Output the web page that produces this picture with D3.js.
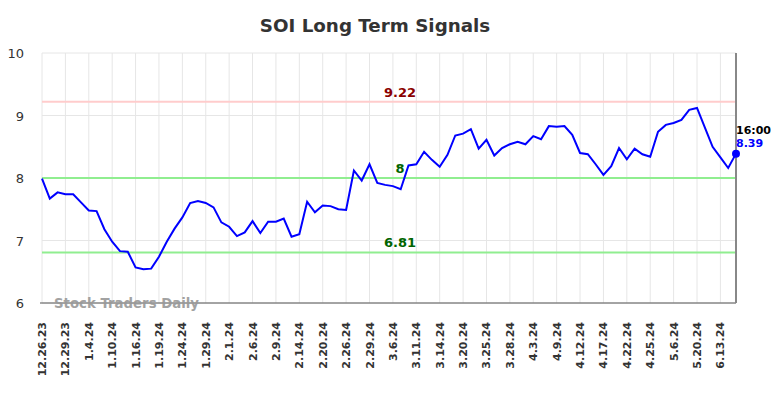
<!DOCTYPE html>
<html>
<head>
<meta charset="utf-8">
<script src="https://cdn.jsdelivr.net/npm/d3@7"></script>
<style>
  body { margin: 0; background: #fff; }
  svg { font-family: "DejaVu Sans", sans-serif; }
</style>
</head>
<body>
<div id="chart"></div>
<script>
'use strict'

// tick labels, one every 3 points
var tickLabels = ['12.26.23', '12.29.23', '1.4.24', '1.10.24', '1.16.24', '1.19.24', '1.24.24', '1.29.24',
  '2.1.24', '2.6.24', '2.9.24', '2.14.24', '2.20.24', '2.26.24', '2.29.24', '3.6.24', '3.11.24', '3.14.24',
  '3.20.24', '3.25.24', '3.28.24', '4.3.24', '4.9.24', '4.12.24', '4.17.24', '4.22.24', '4.25.24', '5.6.24',
  '5.20.24', '6.13.24'];

// signal values
var signal = [7.99, 7.67, 7.77, 7.74, 7.74, 7.61, 7.48, 7.47, 7.18, 6.98,
  6.83, 6.82, 6.57, 6.54, 6.55, 6.74, 6.98, 7.19, 7.37, 7.60,
  7.63, 7.60, 7.53, 7.29, 7.22, 7.07, 7.13, 7.31, 7.12, 7.30,
  7.30, 7.35, 7.06, 7.10, 7.62, 7.45, 7.56, 7.55, 7.50, 7.49,
  8.12, 7.96, 8.22, 7.92, 7.89, 7.87, 7.82, 8.20, 8.22, 8.42,
  8.29, 8.18, 8.37, 8.68, 8.71, 8.78, 8.47, 8.61, 8.36, 8.48,
  8.54, 8.58, 8.54, 8.67, 8.62, 8.83, 8.82, 8.83, 8.69, 8.40,
  8.38, 8.22, 8.05, 8.19, 8.48, 8.30, 8.47, 8.38, 8.34, 8.74,
  8.85, 8.88, 8.93, 9.09, 9.12, 8.81, 8.50, 8.33, 8.16, 8.39];

var yTicks = [6, 7, 8, 9, 10];
var levels = [
  { value: 9.22, label: '9.22', line: '#ffcccc', text: '#8b0000' },
  { value: 8, label: '8', line: '#90ee90', text: '#006400' },
  { value: 6.81, label: '6.81', line: '#90ee90', text: '#006400' }
];
var lastTime = '16:00';

var WIDTH = 784, HEIGHT = 398;
var LEFT = 42, RIGHT = 736, TOP = 53, BOTTOM = 303;

var svg = d3.select('#chart').append('svg').attr('width', WIDTH).attr('height', HEIGHT);

var x = d3.scaleLinear().domain([0, signal.length - 1]).range([LEFT, RIGHT]);
var y = d3.scaleLinear().domain([6, 10]).range([BOTTOM, TOP]);

// title
svg.append('text')
  .attr('x', 375).attr('y', 32)
  .attr('text-anchor', 'middle')
  .attr('font-size', '18.3px').attr('font-weight', 'bold')
  .attr('fill', '#333')
  .text('SOI Long Term Signals');

// grid
svg.append('g').selectAll('line').data(yTicks).enter().append('line')
  .attr('x1', LEFT).attr('x2', RIGHT)
  .attr('y1', function (d) { return y(d) }).attr('y2', function (d) { return y(d) })
  .attr('stroke', '#e6e6e6').attr('stroke-width', 1);

svg.append('g').selectAll('line').data(tickLabels).enter().append('line')
  .attr('x1', function (d, i) { return x(i * 3) }).attr('x2', function (d, i) { return x(i * 3) })
  .attr('y1', TOP).attr('y2', BOTTOM)
  .attr('stroke', '#e6e6e6').attr('stroke-width', 1);

// y labels
svg.append('g').selectAll('text').data(yTicks).enter().append('text')
  .attr('x', 24).attr('y', function (d) { return y(d) + 5 })
  .attr('text-anchor', 'end')
  .attr('font-size', '13px').attr('fill', '#333')
  .text(function (d) { return d });

// x labels
svg.append('g').selectAll('text').data(tickLabels).enter().append('text')
  .attr('transform', function (d, i) { return 'translate(' + (x(i * 3) + 4) + ',322) rotate(-90)' })
  .attr('text-anchor', 'end')
  .attr('font-size', '11px').attr('font-weight', 'bold').attr('fill', '#333')
  .text(function (d) { return d });

// level lines
svg.append('g').selectAll('line').data(levels).enter().append('line')
  .attr('x1', LEFT).attr('x2', RIGHT)
  .attr('y1', function (d) { return y(d.value) }).attr('y2', function (d) { return y(d.value) })
  .attr('stroke', function (d) { return d.line }).attr('stroke-width', 2);

svg.append('g').selectAll('text').data(levels).enter().append('text')
  .attr('x', 400).attr('y', function (d) { return y(d.value) - 5 })
  .attr('text-anchor', 'middle')
  .attr('font-size', '13px').attr('font-weight', 'bold')
  .attr('fill', function (d) { return d.text })
  .text(function (d) { return d.label });

// axis lines
svg.append('line')
  .attr('x1', LEFT - 2).attr('x2', RIGHT).attr('y1', BOTTOM).attr('y2', BOTTOM)
  .attr('stroke', '#555').attr('stroke-width', 1);
svg.append('line')
  .attr('x1', RIGHT).attr('x2', RIGHT).attr('y1', TOP).attr('y2', BOTTOM)
  .attr('stroke', '#888').attr('stroke-width', 2);

// watermark
svg.append('text')
  .attr('x', 54).attr('y', 308)
  .attr('font-size', '13.3px').attr('font-weight', 'bold')
  .attr('fill', '#999').attr('opacity', 0.9)
  .text('Stock Traders Daily');

// signal line
var line = d3.line()
  .x(function (d, i) { return x(i) })
  .y(function (d) { return y(d) });

svg.append('path')
  .datum(signal)
  .attr('d', line)
  .attr('fill', 'none')
  .attr('stroke', '#0000ff')
  .attr('stroke-width', 2);

var lastI = signal.length - 1;
svg.append('circle')
  .attr('cx', x(lastI)).attr('cy', y(signal[lastI])).attr('r', 4)
  .attr('fill', '#0000ff');

svg.append('text')
  .attr('x', x(lastI)).attr('y', y(signal[lastI]) - 20)
  .attr('font-size', '11px').attr('font-weight', 'bold').attr('fill', '#000')
  .text(lastTime);
svg.append('text')
  .attr('x', x(lastI)).attr('y', y(signal[lastI]) - 7)
  .attr('font-size', '11px').attr('font-weight', 'bold').attr('fill', '#0000ff')
  .text(signal[lastI]);
</script>
</body>
</html>
